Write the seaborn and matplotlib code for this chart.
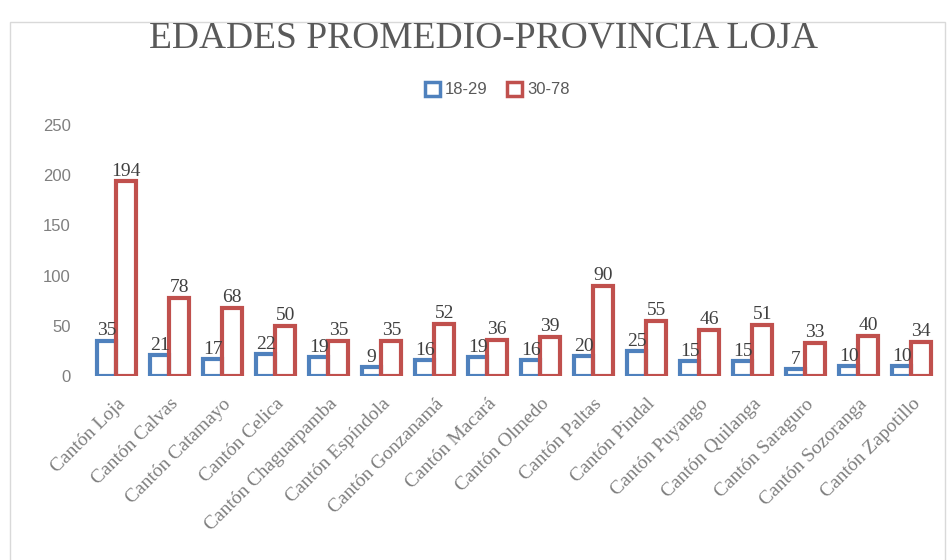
import matplotlib
matplotlib.use("Agg")
import matplotlib.pyplot as plt
import matplotlib.patches as mpatches
import seaborn as sns
import pandas as pd

# datos por cantón
cantones = [
    "Cantón Loja", "Cantón Calvas", "Cantón Catamayo", "Cantón Celica",
    "Cantón Chaguarpamba", "Cantón Espíndola", "Cantón Gonzanamá", "Cantón Macará",
    "Cantón Olmedo", "Cantón Paltas", "Cantón Pindal", "Cantón Puyango",
    "Cantón Quilanga", "Cantón Saraguro", "Cantón Sozoranga", "Cantón Zapotillo",
]
edad_18_29 = [35, 21, 17, 22, 19, 9, 16, 19, 16, 20, 25, 15, 15, 7, 10, 10]
edad_30_78 = [194, 78, 68, 50, 35, 35, 52, 36, 39, 90, 55, 46, 51, 33, 40, 34]
grupos = ["18-29", "30-78"]
colores = ["#4F81BD", "#C0504D"]

df = pd.DataFrame({
    "canton": cantones * 2,
    "grupo": [grupos[0]] * len(cantones) + [grupos[1]] * len(cantones),
    "valor": edad_18_29 + edad_30_78,
})

sns.set_style("white")
plt.rcParams["font.family"] = ["Liberation Serif", "DejaVu Serif"]

fig = plt.figure(figsize=(9.49, 5.6), dpi=100)
ax = fig.add_axes([0.0948, 0.3286, 0.8936, 0.448])

sns.barplot(
    data=df, x="canton", y="valor", hue="grupo",
    palette=colores, fill=False, linewidth=3, width=0.74,
    legend=False, ax=ax,
)

for cont in ax.containers:
    ax.bar_label(cont, fmt="%d", padding=1, fontsize=14, color="#404040", clip_on=False)

ax.set_xlim(-0.5, len(cantones) - 0.5)
ax.set_ylim(0, 250)
ax.set_yticks([0, 50, 100, 150, 200, 250])
ax.set_xlabel("")
ax.set_ylabel("")
sns.despine(ax=ax, left=True, bottom=True)
ax.tick_params(axis="y", length=0, pad=14, labelsize=12, labelcolor="#7f7f7f")
for lab in ax.get_yticklabels():
    lab.set_fontfamily(["Liberation Sans", "DejaVu Sans"])
ax.tick_params(axis="x", length=0, pad=14, labelsize=14, labelcolor="#7f7f7f")
plt.setp(ax.get_xticklabels(), rotation=45, ha="right", rotation_mode="anchor")

fig.text(0.509, 0.932, "EDADES PROMEDIO-PROVINCIA LOJA", ha="center", va="center",
         fontsize=27, color="#595959")

handles = [mpatches.Patch(facecolor="white", edgecolor=c, linewidth=2.5) for c in colores]
fig.legend(handles, grupos, loc="center", bbox_to_anchor=(0.524, 0.84), ncol=2,
           frameon=False, handlelength=0.9, handleheight=0.9,
           columnspacing=1.2, handletextpad=0.3, labelcolor="#595959",
           prop={"family": ["Liberation Sans", "DejaVu Sans"], "size": 12})

# marco del gráfico
fig.patches.append(mpatches.Rectangle((0.011, -0.01), 0.985, 0.97, transform=fig.transFigure,
                                      fill=False, edgecolor="#d9d9d9", linewidth=1))

plt.savefig("out.png", dpi=100)
